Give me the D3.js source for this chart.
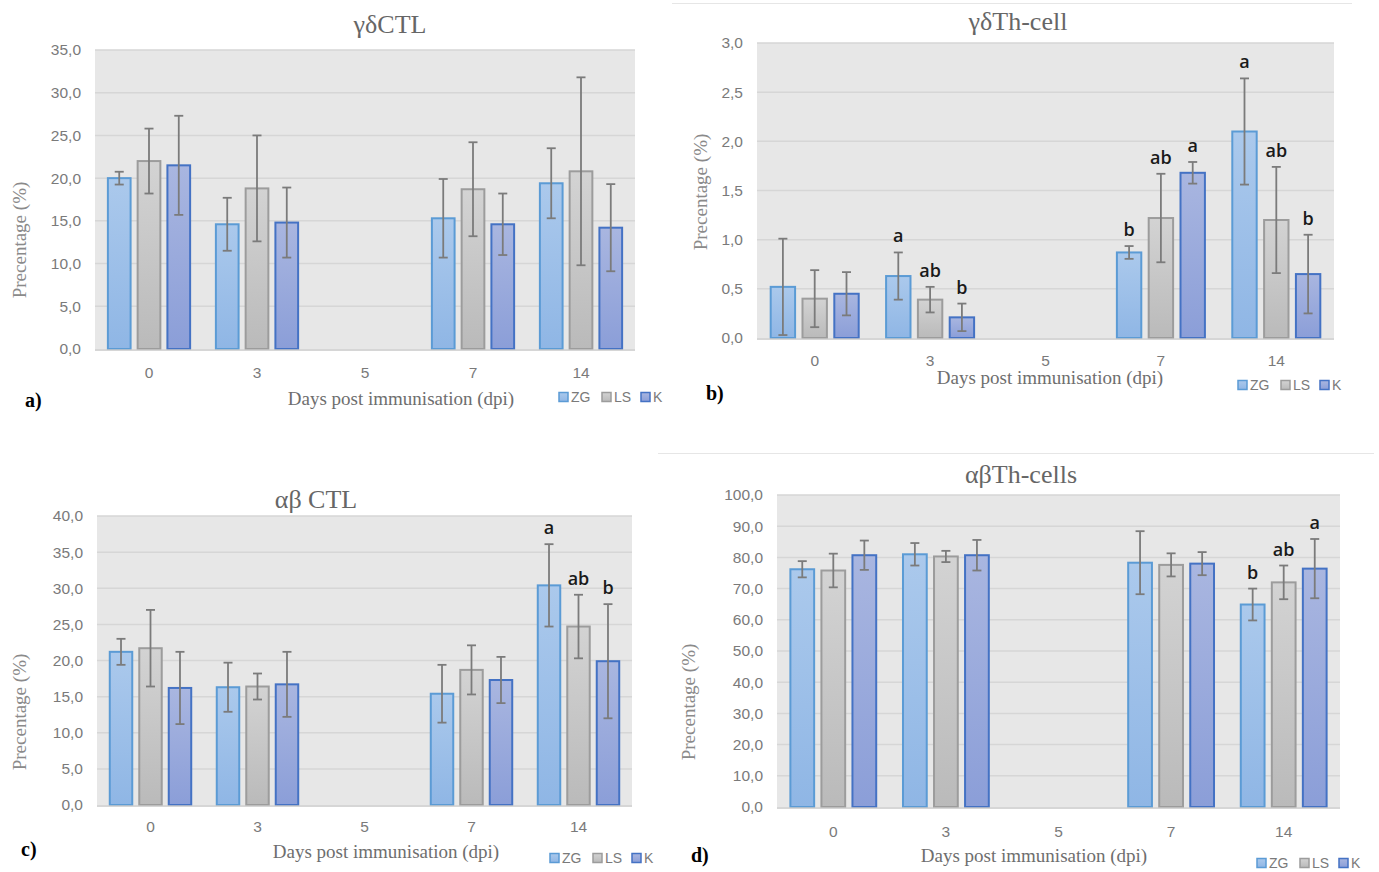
<!DOCTYPE html>
<html>
<head>
<meta charset="utf-8">
<script src="https://cdn.jsdelivr.net/npm/d3@7"></script>
<style>
  html, body { margin: 0; padding: 0; background: #ffffff; }
  svg { display: block; }
</style>
</head>
<body>
<svg id="chart" width="1379" height="872"></svg>
<script>
// ---------------- DATA ----------------
const categories = ["0", "3", "5", "7", "14"];
const seriesNames = ["ZG", "LS", "K"];

// a) γδCTL
const gdCTL_ZG = [20.0, 14.6, null, 15.3, 19.4];
const gdCTL_LS = [22.0, 18.8, null, 18.7, 20.8];
const gdCTL_K  = [21.5, 14.8, null, 14.6, 14.2];
const gdCTL_ZG_err = [0.75, 3.1, null, 4.6, 4.1];
const gdCTL_LS_err = [3.8, 6.2, null, 5.5, 11.0];
const gdCTL_K_err  = [5.8, 4.1, null, 3.6, 5.1];
const gdCTL_ticks = [0, 5, 10, 15, 20, 25, 30, 35];

// b) γδTh-cell
const gdTh_ZG = [0.52, 0.63, null, 0.87, 2.10];
const gdTh_LS = [0.40, 0.39, null, 1.22, 1.20];
const gdTh_K  = [0.45, 0.21, null, 1.68, 0.65];
const gdTh_ZG_err = [0.49, 0.24, null, 0.065, 0.54];
const gdTh_LS_err = [0.29, 0.13, null, 0.45, 0.54];
const gdTh_K_err  = [0.22, 0.14, null, 0.11, 0.40];
const gdTh_ZG_sig = ["", "a", "", "b", "a"];
const gdTh_LS_sig = ["", "ab", "", "ab", "ab"];
const gdTh_K_sig  = ["", "b", "", "a", "b"];
const gdTh_ticks = [0, 0.5, 1.0, 1.5, 2.0, 2.5, 3.0];

// c) αβ CTL
const abCTL_ZG = [21.2, 16.3, null, 15.4, 30.4];
const abCTL_LS = [21.7, 16.4, null, 18.7, 24.7];
const abCTL_K  = [16.2, 16.7, null, 17.3, 19.9];
const abCTL_ZG_err = [1.8, 3.4, null, 4.0, 5.7];
const abCTL_LS_err = [5.3, 1.8, null, 3.4, 4.4];
const abCTL_K_err  = [5.0, 4.5, null, 3.2, 7.9];
const abCTL_ZG_sig = ["", "", "", "", "a"];
const abCTL_LS_sig = ["", "", "", "", "ab"];
const abCTL_K_sig  = ["", "", "", "", "b"];
const abCTL_ticks = [0, 5, 10, 15, 20, 25, 30, 35, 40];

// d) αβTh-cells
const abTh_ZG = [76.2, 81.0, null, 78.3, 64.9];
const abTh_LS = [75.8, 80.3, null, 77.6, 72.0];
const abTh_K  = [80.7, 80.7, null, 78.0, 76.4];
const abTh_ZG_err = [2.6, 3.6, null, 10.1, 5.1];
const abTh_LS_err = [5.4, 1.8, null, 3.7, 5.4];
const abTh_K_err  = [4.7, 4.9, null, 3.7, 9.5];
const abTh_ZG_sig = ["", "", "", "", "b"];
const abTh_LS_sig = ["", "", "", "", "ab"];
const abTh_K_sig  = ["", "", "", "", "a"];
const abTh_ticks = [0, 10, 20, 30, 40, 50, 60, 70, 80, 90, 100];

const empty = ["", "", "", "", ""];

// ---------------- STYLE ----------------
const seriesStyle = {
  ZG: { top: "#abc9ec", bottom: "#8fb6e5", stroke: "#5b9bd5" },
  LS: { top: "#d3d3d3", bottom: "#bababa", stroke: "#9c9c9c" },
  K:  { top: "#a9b6e0", bottom: "#8b9ed8", stroke: "#4472c4" }
};

const svg = d3.select("#chart");
const defs = svg.append("defs");
seriesNames.forEach(s => {
  const g = defs.append("linearGradient").attr("id", "grad-" + s)
    .attr("x1", 0).attr("y1", 0).attr("x2", 0).attr("y2", 1);
  g.append("stop").attr("offset", "0%").attr("stop-color", seriesStyle[s].top);
  g.append("stop").attr("offset", "100%").attr("stop-color", seriesStyle[s].bottom);
});

const fmt = v => d3.format(".1f")(v).replace(".", ",");

const panels = [
  { title: "γδCTL", letter: "a)", vals: [gdCTL_ZG, gdCTL_LS, gdCTL_K], errs: [gdCTL_ZG_err, gdCTL_LS_err, gdCTL_K_err],
    sig: [empty, empty, empty], ticks: gdCTL_ticks,
    L: 95, R: 635, T: 50, B: 349, titleX: 390, titleY: 33, xlabY: 379, xTitleX: 401, xTitleY: 405,
    yTitleX: 19, yTitleY: 240, legX: 559, legY: 397, letX: 25, letY: 407 },
  { title: "γδTh-cell", letter: "b)", vals: [gdTh_ZG, gdTh_LS, gdTh_K], errs: [gdTh_ZG_err, gdTh_LS_err, gdTh_K_err],
    sig: [gdTh_ZG_sig, gdTh_LS_sig, gdTh_K_sig], ticks: gdTh_ticks,
    L: 757, R: 1334, T: 43, B: 338, titleX: 1018, titleY: 30, xlabY: 367, xTitleX: 1050, xTitleY: 384,
    yTitleX: 700, yTitleY: 192, legX: 1238, legY: 385, letX: 706, letY: 400 },
  { title: "αβ CTL", letter: "c)", vals: [abCTL_ZG, abCTL_LS, abCTL_K], errs: [abCTL_ZG_err, abCTL_LS_err, abCTL_K_err],
    sig: [abCTL_ZG_sig, abCTL_LS_sig, abCTL_K_sig], ticks: abCTL_ticks,
    L: 97, R: 632, T: 516, B: 805, titleX: 316, titleY: 508, xlabY: 833, xTitleX: 386, xTitleY: 858,
    yTitleX: 19, yTitleY: 712, legX: 550, legY: 858, letX: 21, letY: 856 },
  { title: "αβTh-cells", letter: "d)", vals: [abTh_ZG, abTh_LS, abTh_K], errs: [abTh_ZG_err, abTh_LS_err, abTh_K_err],
    sig: [abTh_ZG_sig, abTh_LS_sig, abTh_K_sig], ticks: abTh_ticks,
    L: 777, R: 1340, T: 495, B: 807, titleX: 1021, titleY: 483, xlabY: 838, xTitleX: 1034, xTitleY: 862,
    yTitleX: 688, yTitleY: 702, legX: 1257, legY: 863, letX: 691, letY: 862 }
];

// separator lines at top of right-hand panels
svg.append("line").attr("x1", 672).attr("x2", 1352).attr("y1", 3.5).attr("y2", 3.5)
  .attr("stroke", "#e6e6e6").attr("stroke-width", 1.2);
svg.append("line").attr("x1", 658).attr("x2", 1374).attr("y1", 453.5).attr("y2", 453.5)
  .attr("stroke", "#e6e6e6").attr("stroke-width", 1.2);

panels.forEach(p => {
  const g = svg.append("g");
  const maxV = p.ticks[p.ticks.length - 1];
  const y = d3.scaleLinear().domain([0, maxV]).range([p.B, p.T]);
  const x0 = d3.scaleBand().domain(categories).range([p.L, p.R]).paddingInner(0.22).paddingOuter(0.11);
  const x1 = d3.scaleBand().domain(seriesNames).range([0, x0.bandwidth()]).paddingInner(0.17);

  // plot background
  g.append("rect").attr("x", p.L).attr("y", p.T).attr("width", p.R - p.L).attr("height", p.B - p.T)
    .attr("fill", "#e7e7e7");

  // gridlines
  g.append("g").selectAll("line").data(p.ticks.filter(t => t > 0)).join("line")
    .attr("x1", p.L).attr("x2", p.R)
    .attr("y1", d => y(d)).attr("y2", d => y(d))
    .attr("stroke", "#d6d6d6").attr("stroke-width", 1.5);

  // y axis labels
  const yAxis = d3.axisLeft(y).tickValues(p.ticks).tickFormat(fmt).tickSize(0).tickPadding(14);
  const ya = g.append("g").attr("transform", `translate(${p.L},0)`).call(yAxis);
  ya.select(".domain").remove();
  ya.selectAll("text").attr("fill", "#7a7a7a").attr("font-family", "'Liberation Sans', Arial, sans-serif")
    .attr("font-size", 15.5);

  // x axis labels
  const xAxis = d3.axisBottom(x0.copy().paddingInner(0).paddingOuter(0)).tickSize(0).tickPadding(0);
  const xa = g.append("g").attr("transform", `translate(0,${p.xlabY - 12})`).call(xAxis);
  xa.select(".domain").remove();
  xa.selectAll("text").attr("fill", "#7a7a7a").attr("font-family", "'Liberation Sans', Arial, sans-serif")
    .attr("font-size", 15.5).attr("dy", "0.72em");

  // bars
  seriesNames.forEach((s, si) => {
    const rows = categories.map((c, ci) => ({ c, v: p.vals[si][ci], e: p.errs[si][ci], sig: p.sig[si][ci] }))
      .filter(d => d.v !== null);
    const sg = g.append("g");
    sg.selectAll("rect").data(rows).join("rect")
      .attr("x", d => x0(d.c) + x1(s) + 1)
      .attr("y", d => y(d.v))
      .attr("width", x1.bandwidth() - 2)
      .attr("height", d => p.B - y(d.v))
      .attr("fill", `url(#grad-${s})`)
      .attr("stroke", seriesStyle[s].stroke)
      .attr("stroke-width", 2);
  });

  // baseline
  g.append("line").attr("x1", p.L).attr("x2", p.R).attr("y1", p.B + 1).attr("y2", p.B + 1)
    .attr("stroke", "#c8c8c8").attr("stroke-width", 1.5);

  // error bars & significance letters
  seriesNames.forEach((s, si) => {
    const rows = categories.map((c, ci) => ({ c, v: p.vals[si][ci], e: p.errs[si][ci], sig: p.sig[si][ci] }))
      .filter(d => d.v !== null);
    const eg = g.append("g").attr("stroke", "#7b7b7b").attr("stroke-width", 1.8);
    rows.forEach(d => {
      const cx = x0(d.c) + x1(s) + x1.bandwidth() / 2;
      const y1 = y(d.v + d.e), y2 = y(Math.max(0, d.v - d.e));
      eg.append("line").attr("x1", cx).attr("x2", cx).attr("y1", y1).attr("y2", y2);
      eg.append("line").attr("x1", cx - 4.5).attr("x2", cx + 4.5).attr("y1", y1).attr("y2", y1);
      eg.append("line").attr("x1", cx - 4.5).attr("x2", cx + 4.5).attr("y1", y2).attr("y2", y2);
      if (d.sig) {
        g.append("text").attr("x", cx).attr("y", y1 - 10).attr("text-anchor", "middle")
          .attr("font-family", "'Open Sans', 'Liberation Sans', sans-serif").attr("font-size", 18)
          .attr("font-weight", 600).attr("fill", "#1a1a1a").text(d.sig);
      }
    });
  });

  // title
  g.append("text").attr("x", p.titleX).attr("y", p.titleY).attr("text-anchor", "middle")
    .attr("font-family", "'Liberation Serif', 'Times New Roman', serif").attr("font-size", 26)
    .attr("fill", "#666666").text(p.title);

  // x-axis title
  g.append("text").attr("x", p.xTitleX).attr("y", p.xTitleY).attr("text-anchor", "middle")
    .attr("font-family", "'Liberation Serif', 'Times New Roman', serif").attr("font-size", 19)
    .attr("fill", "#6e6e6e").text("Days post immunisation (dpi)");

  // y-axis title
  g.append("text").attr("transform", `translate(${p.yTitleX},${p.yTitleY}) rotate(-90)`)
    .attr("text-anchor", "middle").attr("dy", "0.35em")
    .attr("font-family", "'Liberation Serif', 'Times New Roman', serif").attr("font-size", 19)
    .attr("fill", "#8a8a8a").text("Precentage (%)");

  // legend
  const legOffsets = [0, 43, 82];
  seriesNames.forEach((s, si) => {
    const lx = p.legX + legOffsets[si];
    g.append("rect").attr("x", lx).attr("y", p.legY - 4.5).attr("width", 9).attr("height", 9)
      .attr("fill", `url(#grad-${s})`).attr("stroke", seriesStyle[s].stroke).attr("stroke-width", 1.5);
    g.append("text").attr("x", lx + 12).attr("y", p.legY).attr("dy", "0.36em")
      .attr("font-family", "'Liberation Sans', Arial, sans-serif").attr("font-size", 14)
      .attr("fill", "#7a7a7a").text(s);
  });

  // panel letter
  g.append("text").attr("x", p.letX).attr("y", p.letY)
    .attr("font-family", "'Liberation Serif', 'Times New Roman', serif").attr("font-size", 20)
    .attr("font-weight", "bold").attr("fill", "#000").text(p.letter);
});
</script>
</body>
</html>
